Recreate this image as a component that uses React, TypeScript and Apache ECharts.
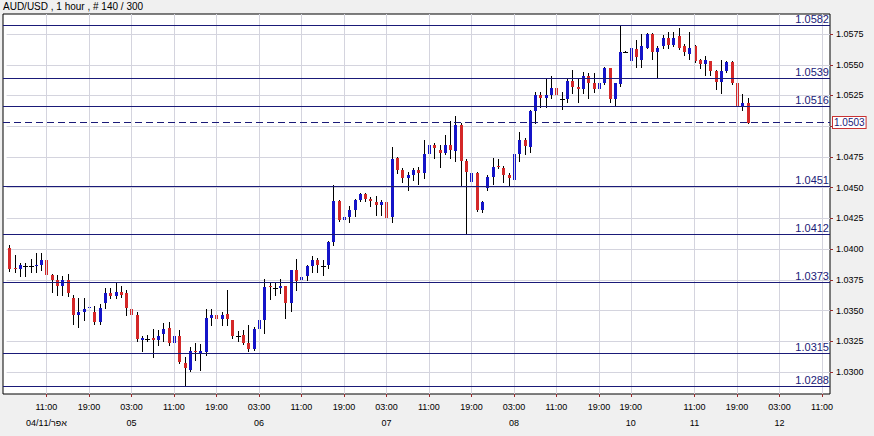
import React, { useEffect, useRef } from 'react';
import * as echarts from 'echarts';

const TITLE = 'AUD/USD , 1 hour , # 140 / 300';

// OHLC of the 140 hourly candles (index 0 = 04 Apr 04:00)
const opens = [
  1.0401, 1.0385, 1.0384, 1.0386, 1.0386, 1.0386, 1.0387, 1.0391, 1.0379, 1.0375,
  1.0370, 1.0375, 1.0360, 1.0346, 1.0349, 1.0352, 1.0349, 1.0341, 1.0356, 1.0364,
  1.0362, 1.0365, 1.0364, 1.0351, 1.0346, 1.0326, 1.0327, 1.0328, 1.0326, 1.0331,
  1.0336, 1.0324, 1.0329, 1.0307, 1.0302, 1.0317, 1.0315, 1.0316, 1.0344, 1.0346,
  1.0343, 1.0347, 1.0342, 1.0329, 1.0330, 1.0324, 1.0319, 1.0335, 1.0342, 1.0370,
  1.0368, 1.0368, 1.0370, 1.0356, 1.0383, 1.0375, 1.0378, 1.0386, 1.0391, 1.0386,
  1.0387, 1.0406, 1.0439, 1.0424, 1.0426, 1.0432, 1.0440, 1.0445, 1.0441, 1.0438,
  1.0436, 1.0438, 1.0426, 1.0474, 1.0464, 1.0458, 1.0460, 1.0464, 1.0462, 1.0477,
  1.0485, 1.0481, 1.0478, 1.0485, 1.0480, 1.0501, 1.0472, 1.0455, 1.0462, 1.0432,
  1.0450, 1.0459, 1.0468, 1.0466, 1.0460, 1.0456, 1.0477, 1.0489, 1.0483, 1.0512,
  1.0525, 1.0523, 1.0525, 1.0531, 1.0522, 1.0522, 1.0537, 1.0532, 1.0530, 1.0541,
  1.0535, 1.0530, 1.0535, 1.0547, 1.0522, 1.0534, 1.0560, 1.0553, 1.0563, 1.0554,
  1.0564, 1.0575, 1.0560, 1.0565, 1.0572, 1.0566, 1.0573, 1.0565, 1.0559, 1.0565,
  1.0554, 1.0551, 1.0553, 1.0545, 1.0536, 1.0545, 1.0552, 1.0535, 1.0516, 1.0519,
];
const closes = [
  1.0384, 1.0384, 1.0387, 1.0386, 1.0386, 1.0387, 1.0391, 1.0379, 1.0375, 1.0370,
  1.0375, 1.0364, 1.0346, 1.0349, 1.0351, 1.0353, 1.0341, 1.0352, 1.0364, 1.0362,
  1.0365, 1.0363, 1.0352, 1.0346, 1.0327, 1.0328, 1.0327, 1.0326, 1.0329, 1.0335,
  1.0324, 1.0329, 1.0308, 1.0303, 1.0317, 1.0316, 1.0317, 1.0344, 1.0346, 1.0343,
  1.0346, 1.0343, 1.0329, 1.0329, 1.0324, 1.0319, 1.0335, 1.0342, 1.0369, 1.0369,
  1.0368, 1.0370, 1.0356, 1.0383, 1.0374, 1.0377, 1.0386, 1.0391, 1.0387, 1.0386,
  1.0406, 1.0439, 1.0424, 1.0426, 1.0432, 1.0440, 1.0445, 1.0441, 1.0439, 1.0436,
  1.0438, 1.0425, 1.0473, 1.0464, 1.0458, 1.0460, 1.0464, 1.0462, 1.0477, 1.0485,
  1.0482, 1.0478, 1.0485, 1.0481, 1.0501, 1.0472, 1.0463, 1.0462, 1.0432, 1.0438,
  1.0459, 1.0467, 1.0467, 1.0460, 1.0458, 1.0477, 1.0489, 1.0484, 1.0512, 1.0525,
  1.0523, 1.0525, 1.0531, 1.0525, 1.0522, 1.0537, 1.0532, 1.0530, 1.0541, 1.0535,
  1.0530, 1.0535, 1.0547, 1.0522, 1.0535, 1.0560, 1.0560, 1.0564, 1.0556, 1.0565,
  1.0575, 1.0560, 1.0564, 1.0572, 1.0566, 1.0572, 1.0564, 1.0560, 1.0564, 1.0553,
  1.0551, 1.0554, 1.0545, 1.0536, 1.0545, 1.0552, 1.0535, 1.0516, 1.0519, 1.0503,
];
const lows = [
  1.0382, 1.0381, 1.0378, 1.0378, 1.0381, 1.0381, 1.0383, 1.0372, 1.0365, 1.0363,
  1.0363, 1.0362, 1.0339, 1.0337, 1.0342, 1.0344, 1.0339, 1.0339, 1.0352, 1.0360,
  1.0360, 1.0361, 1.0346, 1.0343, 1.0325, 1.0317, 1.0325, 1.0312, 1.0322, 1.0325,
  1.0322, 1.0306, 1.0307, 1.0289, 1.0301, 1.0310, 1.0302, 1.0314, 1.0338, 1.0338,
  1.0338, 1.0338, 1.0328, 1.0325, 1.0323, 1.0317, 1.0318, 1.0332, 1.0332, 1.0359,
  1.0363, 1.0364, 1.0344, 1.0350, 1.0367, 1.0370, 1.0375, 1.0381, 1.0381, 1.0379,
  1.0385, 1.0403, 1.0423, 1.0419, 1.0422, 1.0427, 1.0439, 1.0439, 1.0435, 1.0428,
  1.0428, 1.0421, 1.0422, 1.0462, 1.0455, 1.0448, 1.0456, 1.0453, 1.0458, 1.0477,
  1.0474, 1.0467, 1.0477, 1.0474, 1.0472, 1.0452, 1.0413, 1.0445, 1.0431, 1.0430,
  1.0448, 1.0453, 1.0466, 1.0455, 1.0452, 1.0453, 1.0472, 1.0477, 1.0479, 1.0503,
  1.0516, 1.0516, 1.0523, 1.0516, 1.0514, 1.0520, 1.0527, 1.0520, 1.0527, 1.0523,
  1.0528, 1.0529, 1.0534, 1.0520, 1.0517, 1.0533, 1.0560, 1.0552, 1.0548, 1.0548,
  1.0564, 1.0555, 1.0539, 1.0564, 1.0564, 1.0565, 1.0563, 1.0558, 1.0555, 1.0552,
  1.0547, 1.0542, 1.0542, 1.0530, 1.0527, 1.0544, 1.0534, 1.0515, 1.0513, 1.0503,
];
const highs = [
  1.0403, 1.0395, 1.0389, 1.0389, 1.0392, 1.0397, 1.0397, 1.0394, 1.0380, 1.0379,
  1.0378, 1.0380, 1.0363, 1.0360, 1.0360, 1.0360, 1.0354, 1.0355, 1.0368, 1.0368,
  1.0373, 1.0370, 1.0367, 1.0355, 1.0349, 1.0329, 1.0330, 1.0335, 1.0334, 1.0340,
  1.0341, 1.0334, 1.0334, 1.0312, 1.0320, 1.0324, 1.0323, 1.0351, 1.0351, 1.0349,
  1.0349, 1.0367, 1.0342, 1.0333, 1.0334, 1.0338, 1.0337, 1.0346, 1.0376, 1.0373,
  1.0373, 1.0376, 1.0370, 1.0383, 1.0392, 1.0396, 1.0387, 1.0394, 1.0393, 1.0391,
  1.0407, 1.0452, 1.0440, 1.0429, 1.0435, 1.0441, 1.0446, 1.0446, 1.0442, 1.0443,
  1.0440, 1.0440, 1.0483, 1.0475, 1.0466, 1.0463, 1.0466, 1.0467, 1.0489, 1.0487,
  1.0486, 1.0485, 1.0493, 1.0504, 1.0508, 1.0503, 1.0473, 1.0466, 1.0463, 1.0439,
  1.0460, 1.0474, 1.0473, 1.0468, 1.0462, 1.0479, 1.0495, 1.0490, 1.0513, 1.0528,
  1.0528, 1.0539, 1.0541, 1.0533, 1.0528, 1.0539, 1.0546, 1.0539, 1.0544, 1.0543,
  1.0543, 1.0539, 1.0548, 1.0547, 1.0535, 1.0582, 1.0561, 1.0572, 1.0570, 1.0575,
  1.0576, 1.0576, 1.0565, 1.0574, 1.0577, 1.0577, 1.0580, 1.0567, 1.0577, 1.0566,
  1.0555, 1.0557, 1.0553, 1.0546, 1.0554, 1.0553, 1.0553, 1.0538, 1.0526, 1.0523,
];

// horizontal levels drawn on the chart
const levels = [1.0582, 1.0539, 1.0516, 1.0451, 1.0412, 1.0373, 1.0315, 1.0288];
const currentPrice = 1.0503;

// price axis
const priceMin = 1.02821;
const priceMax = 1.05913;
const priceTicks = [1.03, 1.0325, 1.035, 1.0375, 1.04, 1.0425, 1.045, 1.0475, 1.05, 1.0525, 1.055, 1.0575];
// 1.0500 label is hidden behind the current-price box in the reference
const priceLabels = [1.03, 1.0325, 1.035, 1.0375, 1.04, 1.0425, 1.045, 1.0475, 1.0525, 1.055, 1.0575];

// time axis: 155 hourly slots (140 candles + future slots); weekend gap after index 116
const SLOT_COUNT = 155;
const tickLabels = [
  { index: 7, time: '11:00', day: '04/אפר/11' },
  { index: 15, time: '19:00', day: '' },
  { index: 23, time: '03:00', day: '05' },
  { index: 31, time: '11:00', day: '' },
  { index: 39, time: '19:00', day: '' },
  { index: 47, time: '03:00', day: '06' },
  { index: 55, time: '11:00', day: '' },
  { index: 63, time: '19:00', day: '' },
  { index: 71, time: '03:00', day: '07' },
  { index: 79, time: '11:00', day: '' },
  { index: 87, time: '19:00', day: '' },
  { index: 95, time: '03:00', day: '08' },
  { index: 103, time: '11:00', day: '' },
  { index: 111, time: '19:00', day: '' },
  { index: 117, time: '19:00', day: '10' },
  { index: 129, time: '11:00', day: '11' },
  { index: 137, time: '19:00', day: '' },
  { index: 145, time: '03:00', day: '12' },
  { index: 153, time: '11:00', day: '' },
];

const pad = (n: number) => String(n).padStart(2, '0');
function buildCategories(): string[] {
  const out: string[] = [];
  for (let i = 0; i < SLOT_COUNT; i++) {
    const baseDay = i < 117 ? 4 : 10;
    const baseHour = i < 117 ? 4 + i : 23 + (i - 117);
    const d = baseDay + Math.floor(baseHour / 24);
    const h = baseHour % 24;
    out.push(`2011-04-${pad(d)} ${pad(h)}:00`);
  }
  return out;
}
const categories = buildCategories();

const BLUE = '#1414c8';
const RED = '#d42828';
const NAVY = '#1a1a78';
const GRIDLINE = '#d4d4de';
const FONT = "'Liberation Sans', Arial, sans-serif";

export default function App() {
  const ref = useRef<HTMLDivElement>(null);
  useEffect(() => {
    if (!ref.current) return;
    const chart = echarts.init(ref.current, undefined, { renderer: 'svg' });
    const labelMap = new Map<number, { time: string; day: string }>();
    tickLabels.forEach((t) => labelMap.set(t.index, t));
    const showAt = (idx: number) => labelMap.has(idx);
    const candleData = opens.map((o, i) => [i, o, closes[i], lows[i], highs[i]]);

    const gridTop = 14;
    const gridHeight = 380;

    chart.setOption({
      animation: false,
      backgroundColor: '#f0f0f0',
      title: {
        text: TITLE,
        left: 3,
        top: 1,
        padding: 0,
        textStyle: { fontSize: 10, fontWeight: 'normal', color: '#000', fontFamily: FONT },
      },
      grid: [
        { left: 6.6, width: 823.4, top: gridTop, height: gridHeight, show: false, z: 1 },
        {
          left: 3, width: 827, top: gridTop, height: gridHeight, show: true, z: 0,
          backgroundColor: '#ffffff', borderColor: '#000000', borderWidth: 1,
        },
      ],
      xAxis: [
        {
          type: 'category',
          gridIndex: 0,
          z: 1,
          data: categories,
          boundaryGap: true,
          axisLine: { show: false },
          axisTick: {
            show: true,
            alignWithLabel: true,
            interval: (idx: number) => showAt(idx),
            length: 3,
            lineStyle: { color: '#9a2a2a' },
          },
          axisLabel: {
            interval: (idx: number) => showAt(idx),
            formatter: (_v: string, idx: number) => {
              const t = labelMap.get(idx);
              if (!t) return '';
              return t.day ? `${t.time}\n${t.day}` : t.time;
            },
            margin: 5,
            fontSize: 9,
            lineHeight: 16,
            color: '#000',
            fontFamily: FONT,
          },
          splitLine: { show: false },
        },
        { type: 'value', gridIndex: 1, min: 0, max: 1, show: false },
      ],
      yAxis: [
        {
          type: 'value',
          gridIndex: 0,
          z: 1,
          position: 'right',
          min: priceMin,
          max: priceMax,
          axisLine: { show: false },
          axisTick: { show: true, length: 3, customValues: priceTicks, lineStyle: { color: '#9a2a2a' } },
          axisLabel: {
            customValues: priceLabels,
            formatter: (v: number) => v.toFixed(4),
            margin: 6,
            fontSize: 9,
            color: '#000',
            fontFamily: FONT,
          },
          splitLine: { show: true, lineStyle: { color: GRIDLINE, width: 1 } },
        },
        { type: 'value', gridIndex: 1, min: priceMin, max: priceMax, show: false },
      ],
      series: [
        {
          name: 'vgrid',
          type: 'line',
          xAxisIndex: 0,
          yAxisIndex: 0,
          data: [],
          z: 2,
          silent: true,
          markLine: {
            silent: true,
            precision: 4,
            symbol: ['none', 'none'],
            label: { show: false },
            lineStyle: { color: GRIDLINE, width: 1, type: 'solid' },
            emphasis: { disabled: true },
            data: tickLabels.map((t) => ({ xAxis: categories[t.index] })),
          },
        },
        {
          name: 'AUD/USD',
          type: 'custom',
          xAxisIndex: 0,
          yAxisIndex: 0,
          z: 3,
          data: candleData,
          encode: { x: 0, y: [1, 2, 3, 4] },
          renderItem: (_params: any, api: any) => {
            const x = api.value(0);
            const o = api.value(1);
            const c = api.value(2);
            const l = api.value(3);
            const h = api.value(4);
            const pO = api.coord([x, o]);
            const pC = api.coord([x, c]);
            const pL = api.coord([x, l]);
            const pH = api.coord([x, h]);
            const cx = Math.round(pO[0]) + 0.5;
            const flat = Math.abs(c - o) < 0.00002;
            const children: any[] = [
              {
                type: 'line',
                shape: { x1: cx, y1: Math.round(pH[1]), x2: cx, y2: Math.round(pL[1]) + 1 },
                style: { stroke: '#000', lineWidth: 1 },
              },
            ];
            if (flat) {
              const yy = Math.round(pO[1]) + 0.5;
              children.push({
                type: 'line',
                shape: { x1: cx - 2.5, y1: yy, x2: cx + 2.5, y2: yy },
                style: { stroke: '#000', lineWidth: 1 },
              });
            } else {
              const top = Math.round(Math.min(pO[1], pC[1]));
              const bot = Math.round(Math.max(pO[1], pC[1]));
              children.push({
                type: 'rect',
                shape: { x: cx - 1.5, y: top, width: 3, height: Math.max(1, bot - top) },
                style: { fill: c > o ? BLUE : RED },
              });
            }
            return { type: 'group', children };
          },
        },
        {
          name: 'levels',
          type: 'line',
          xAxisIndex: 1,
          yAxisIndex: 1,
          data: [],
          z: 5,
          silent: true,
          markLine: {
            silent: true,
            precision: 4,
            symbol: ['none', 'none'],
            emphasis: { disabled: true },
            lineStyle: { color: NAVY, width: 1, type: 'solid' },
            label: {
              show: true,
              position: 'insideEndTop',
              distance: [1, 1],
              formatter: (p: any) => Number(p.value).toFixed(4),
              color: NAVY,
              fontSize: 11,
              fontFamily: FONT,
            },
            data: [
              ...levels.map((v) => ({ yAxis: v })),
              {
                yAxis: currentPrice,
                lineStyle: { color: NAVY, width: 1, type: [7, 4] },
                label: {
                  show: true,
                  position: 'end',
                  distance: 3,
                  formatter: (p: any) => Number(p.value).toFixed(4),
                  color: NAVY,
                  fontSize: 10,
                  fontFamily: FONT,
                  backgroundColor: '#ffffff',
                  borderColor: '#c83232',
                  borderWidth: 1,
                  padding: [1, 1, 0, 1],
                },
              },
            ],
          },
        },
      ],
    });
    return () => chart.dispose();
  }, []);
  return (
    <div
      ref={ref}
      style={{ position: 'fixed', left: 0, top: 0, width: 874, height: 436 }}
    />
  );
}
